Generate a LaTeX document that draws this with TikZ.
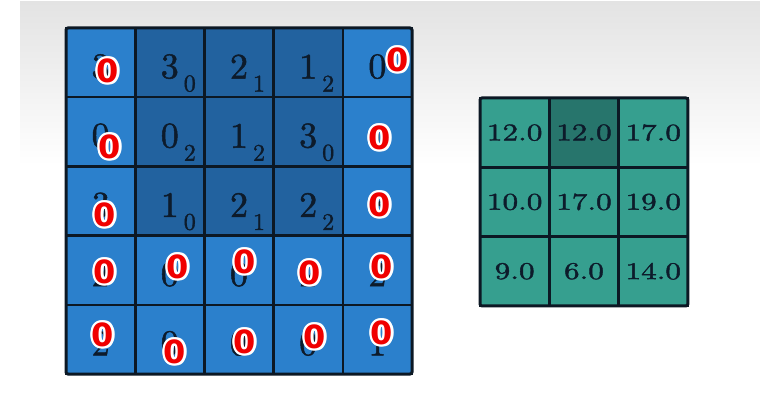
\documentclass[tikz,border=0pt]{standalone}
\usepackage{fontspec}
\newfontfamily\rzfont{DejaVu Sans}
\newfontfamily\lmh{lmroman10-regular.otf}[FakeBold=1.4]
\definecolor{bggray}{HTML}{E3E3E3}
\definecolor{blueL}{HTML}{2B80CC}
\definecolor{blueD}{HTML}{22629F}
\definecolor{tealL}{HTML}{369F8F}
\definecolor{tealD}{HTML}{27756C}
\definecolor{gridline}{HTML}{0C1824}
\definecolor{digit}{HTML}{0D1B2B}
\definecolor{rzred}{HTML}{F00000}
\tikzset{
  cellbox/.style={draw=gridline, line width=2.6pt, minimum size=69.2pt, inner sep=0pt, outer sep=0pt},
  bigdig/.style={text=digit, font=\lmh\fontsize{36}{42}\selectfont, inner sep=0pt},
  subdig/.style={text=digit, font=\lmh\fontsize{24}{28}\selectfont, inner sep=0pt},
  rzero/.style={font=\rzfont\bfseries\fontsize{32}{36}\selectfont, inner sep=0pt},
}
\newcommand\redzero[3]{%
  \foreach \ang in {0,30,...,330}{\path (#2,#3) ++(\ang:2.3) node[rzero, text=white] {0};}
  \node[rzero, text=rzred] (#1) at (#2,#3) {0};}
\begin{document}
\begin{tikzpicture}[x=1pt,y=-1pt]
\useasboundingbox (0,0) rectangle (760,406);
\fill[white] (0,0) rectangle (760,406);
\shade[top color=bggray, bottom color=white] (20,2) rectangle (760,165);
% input grid
\foreach \r in {0,...,4}{
  \foreach \c in {0,...,4}{
    \pgfmathtruncatemacro\isdark{(\r<3)&&(\c>0)&&(\c<4)}
    \ifnum\isdark=1 \def\cf{blueD}\else\def\cf{blueL}\fi
    \node[cellbox, fill=\cf] (a-\r-\c) at ({66+69.2*(\c+0.5)},{28+69.2*(\r+0.5)}) {};
  }
}
\draw[gridline, line width=3pt, rounded corners=2pt] (a-0-0.north west) rectangle (a-4-4.south east);
% input digits
\foreach \v [count=\i from 0] in {3,3,2,1,0, 0,0,1,3,1, 3,1,2,2,3, 2,0,0,2,2, 2,0,0,0,1}{
  \pgfmathtruncatemacro\r{\i/5}
  \pgfmathtruncatemacro\c{mod(\i,5)}
  \node[bigdig] (d-\r-\c) at ([yshift=-4pt]a-\r-\c.center) {\v};
}
% kernel weights
\foreach \w [count=\i from 0] in {0,1,2, 2,2,0, 0,1,2}{
  \pgfmathtruncatemacro\r{\i/3}
  \pgfmathtruncatemacro\c{mod(\i,3)+1}
  \node[subdig] (k-\r-\c) at ([xshift=20pt,yshift=-21pt]a-\r-\c.center) {\w};
}
% red zero marks
\redzero{z00}{108}{71}
\redzero{z04}{398}{60}
\redzero{z10}{110}{147}
\redzero{z14}{380}{138}
\redzero{z20}{105}{215}
\redzero{z24}{380}{205}
\redzero{z30}{105}{272}
\redzero{z31}{178}{267}
\redzero{z32}{245}{262}
\redzero{z33}{310}{273}
\redzero{z34}{382}{267}
\redzero{z40}{103}{335}
\redzero{z41}{175}{352}
\redzero{z42}{245}{342}
\redzero{z43}{315}{337}
\redzero{z44}{382}{333}
% output grid
\foreach \v [count=\i from 0] in {12.0,12.0,17.0, 10.0,17.0,19.0, 9.0,6.0,14.0}{
  \pgfmathtruncatemacro\r{\i/3}
  \pgfmathtruncatemacro\c{mod(\i,3)}
  \ifnum\i=1 \def\cf{tealD}\else\def\cf{tealL}\fi
  \node[cellbox, fill=\cf, minimum size=69.3pt, text=digit, font=\lmh\fontsize{24}{28}\selectfont] (o-\r-\c) at ({480+69.3*(\c+0.5)},{98+69.3*(\r+0.5)}) {\scalebox{1.3}[1]{\v}};
}
\draw[gridline, line width=3pt, rounded corners=2pt] (o-0-0.north west) rectangle (o-2-2.south east);
\end{tikzpicture}
\end{document}
